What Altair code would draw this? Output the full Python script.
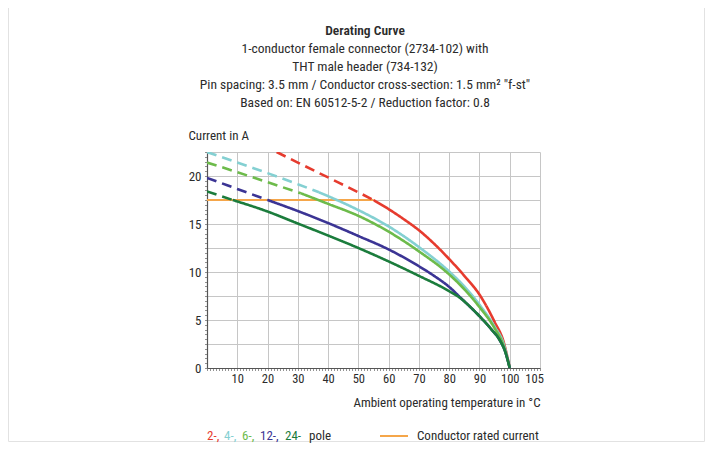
import altair as alt
import pandas as pd

# ---------------- data ----------------
# Ambient temperature in °C  /  current in A
red_dash_t = [23, 30, 40, 50, 55]
red_dash_c = [22.5, 21.4, 19.85, 18.3, 17.5]
red_solid_t = [55, 60, 65, 70, 75, 80, 85, 90, 95, 98, 100]
red_solid_c = [17.5, 16.55, 15.5, 14.35, 12.95, 11.35, 9.6, 7.65, 4.8, 2.7, 0]

cyan_dash_t = [0, 10, 20, 30, 37]
cyan_dash_c = [22.5, 21.4, 20.3, 19.15, 18.3]
cyan_solid_t = [37, 40, 50, 60, 70, 80, 85, 90, 95, 98, 100]
cyan_solid_c = [18.3, 17.9, 16.45, 14.75, 12.6, 10.05, 8.5, 6.6, 4.3, 2.5, 0]

lgreen_dash_t = [0, 10, 20, 31]
lgreen_dash_c = [21.4, 20.4, 19.35, 18.2]
lgreen_solid_t = [31, 40, 50, 60, 70, 80, 85, 90, 95, 98, 100]
lgreen_solid_c = [18.2, 17.1, 15.85, 14.2, 12.15, 9.75, 8.2, 6.35, 4.15, 2.3, 0]

blue_dash_t = [0, 10, 20]
blue_dash_c = [19.8, 18.65, 17.5]
blue_solid_t = [20, 30, 40, 50, 60, 70, 75, 80, 84, 86, 90, 94, 96.5, 98.5, 100]
blue_solid_c = [17.5, 16.35, 15.1, 13.75, 12.35, 10.6, 9.6, 8.45, 7.25, 6.65, 5.4, 4.0, 3.0, 1.7, 0]

dgreen_dash_t = [0, 8.5]
dgreen_dash_c = [18.4, 17.5]
dgreen_solid_t = [8.5, 20, 30, 40, 50, 60, 70, 80, 84, 86, 90, 94, 96.5, 98.5, 100]
dgreen_solid_c = [17.5, 16.3, 15.05, 13.8, 12.5, 11.1, 9.6, 8.0, 7.2, 6.65, 5.4, 4.0, 3.0, 1.7, 0]

rated_t = [0, 55]
rated_c = [17.5, 17.5]

x_grid_values = [0, 10, 20, 30, 40, 50, 60, 70, 80, 90, 100, 110]
x_label_values = [10, 20, 30, 40, 50, 60, 70, 80, 90, 100, 105]
y_grid_values = [0, 2.5, 5, 7.5, 10, 12.5, 15, 17.5, 20, 22.5]
y_label_values = [0, 5, 10, 15, 20]

legend_parts = ["2-,", "4-,", "6-,", "12-,", "24-", "pole"]
legend_rated = "Conductor rated current"

title_text = "Derating Curve"
subtitle_lines = [
    "1-conductor female connector (2734-102) with",
    "THT male header (734-132)",
    'Pin spacing: 3.5 mm / Conductor cross-section: 1.5 mm² "f-st"',
    "Based on: EN 60512-5-2 / Reduction factor: 0.8",
]

# ---------------- styles / layout ----------------
RED = "#e63b2e"
CYAN = "#84d0d2"
LGREEN = "#6dbb4b"
BLUE = "#3b3494"
DGREEN = "#1b7c3c"
ORANGE = "#f5a64a"
TEXT = "#2b2b2b"
GRID = "#c6c6c6"
FONT = "Liberation Sans Narrow, Roboto Condensed, Roboto, sans-serif"

W, H = 333, 216
PAD_L, PAD_T, PAD_R, PAD_B = 199, 144, 166, 75
xscale = alt.Scale(domain=[0, 110], nice=False, zero=False)
yscale = alt.Scale(domain=[0, 22.5], nice=False, zero=False)

series = [
    ("2-pole", RED, red_dash_t, red_dash_c, red_solid_t, red_solid_c),
    ("4-pole", CYAN, cyan_dash_t, cyan_dash_c, cyan_solid_t, cyan_solid_c),
    ("6-pole", LGREEN, lgreen_dash_t, lgreen_dash_c, lgreen_solid_t, lgreen_solid_c),
    ("12-pole", BLUE, blue_dash_t, blue_dash_c, blue_solid_t, blue_solid_c),
    ("24-pole", DGREEN, dgreen_dash_t, dgreen_dash_c, dgreen_solid_t, dgreen_solid_c),
]

all_rows = []
series_frames = []
for name, color, dt, dc, st, sc in series:
    rows = []
    for t, c in zip(dt, dc):
        rows.append({"series": name, "seg": "dashed", "temp": t, "current": c})
    for t, c in zip(st, sc):
        rows.append({"series": name, "seg": "solid", "temp": t, "current": c})
    all_rows += rows
    series_frames.append((name, color, pd.DataFrame(rows)))

df_all = pd.DataFrame(all_rows)
df_rated = pd.DataFrame({"temp": rated_t, "current": rated_c})
one = pd.DataFrame({"k": [0]})

# faint frame (left, right, bottom) around the figure
FR_L, FR_R, FR_B, FR_T = -PAD_L + 0.5, W + PAD_R - 1.5, H + PAD_B - 1.5, -PAD_T - 20
frame = [
    alt.Chart(one).mark_rule(color="#e2e2e2", strokeWidth=1).encode(
        x=alt.value(FR_L), y=alt.value(FR_T), y2=alt.value(FR_B)),
    alt.Chart(one).mark_rule(color="#e2e2e2", strokeWidth=1).encode(
        x=alt.value(FR_R), y=alt.value(FR_T), y2=alt.value(FR_B)),
    alt.Chart(one).mark_rule(color="#e2e2e2", strokeWidth=1).encode(
        x=alt.value(FR_L), x2=alt.value(FR_R), y=alt.value(FR_B)),
]

# grid layer
grid = alt.Chart(df_all).mark_point(opacity=0).encode(
    x=alt.X("temp:Q", scale=xscale, axis=alt.Axis(
        orient="bottom", values=x_grid_values, grid=True, gridColor=GRID, gridWidth=1,
        labels=False, ticks=False, domain=False, title=None)),
    y=alt.Y("current:Q", scale=yscale, axis=alt.Axis(
        orient="left", values=y_grid_values, grid=True, gridColor=GRID, gridWidth=1,
        labels=False, ticks=False, domain=False, title=None)),
)

# minor ticks layer
minor = alt.Chart(df_all).mark_point(opacity=0).encode(
    x=alt.X("temp:Q", scale=xscale, axis=alt.Axis(
        orient="bottom", values=list(range(0, 111)), grid=False, labels=False,
        ticks=True, tickSize=2.5, tickColor="#777", tickWidth=0.8, domain=False, title=None)),
    y=alt.Y("current:Q", scale=yscale, axis=alt.Axis(
        orient="left", values=[i * 0.5 for i in range(46)], grid=False, labels=False,
        ticks=True, tickSize=2.5, tickColor="#777", tickWidth=0.8, domain=False, title=None)),
)

# labelled axes layer
labels = alt.Chart(df_all).mark_point(opacity=0).encode(
    x=alt.X("temp:Q", scale=xscale, axis=alt.Axis(
        orient="bottom", values=x_label_values, grid=False, ticks=False,
        domain=True, domainColor="#555", domainWidth=1.2, labelOverlap=False,
        labelAlign=alt.ExprRef(expr="datum.value == 105 ? 'left' : 'center'"),
        labelFont=FONT, labelFontSize=12.5, labelColor=TEXT, labelPadding=4,
        title="Ambient operating temperature in °C", titleFont=FONT, titleFontSize=13,
        titleFontWeight="normal", titleColor=TEXT, titleX=W, titleY=34,
        titleAlign="right", titleBaseline="middle", titleAngle=0)),
    y=alt.Y("current:Q", scale=yscale, axis=alt.Axis(
        orient="left", values=y_label_values, grid=False, ticks=False,
        domain=True, domainColor="#555", domainWidth=1.2, labelOverlap=False,
        labelFont=FONT, labelFontSize=13, labelColor=TEXT, labelPadding=6,
        title="Current in A", titleFont=FONT, titleFontSize=13,
        titleFontWeight="normal", titleColor=TEXT, titleX=-19, titleY=-17,
        titleAlign="left", titleBaseline="middle", titleAngle=0)),
)

rated = alt.Chart(df_rated).mark_line(color=ORANGE, strokeWidth=2).encode(
    x=alt.X("temp:Q", scale=xscale, axis=None),
    y=alt.Y("current:Q", scale=yscale, axis=None),
)

dash_scale = alt.Scale(domain=["dashed", "solid"], range=[[10, 6], [1, 0]])
curve_layers = []
for name, color, df in series_frames:
    curve_layers.append(
        alt.Chart(df).mark_line(color=color, strokeWidth=2.6, interpolate="monotone", clip=True).encode(
            x=alt.X("temp:Q", scale=xscale, axis=None),
            y=alt.Y("current:Q", scale=yscale, axis=None),
            strokeDash=alt.StrokeDash("seg:N", scale=dash_scale, legend=None),
            detail="seg:N",
        )
    )

# custom legend below the plot (pixel layout relative to plot origin)
legend_colors = [RED, CYAN, LGREEN, BLUE, DGREEN, TEXT]
legend_x = [0, 17, 35, 53, 78, 102]
LEG_Y = 284
legend_layers = []
for txt, col, px in zip(legend_parts, legend_colors, legend_x):
    legend_layers.append(
        alt.Chart(one).mark_text(text=txt, color=col, font=FONT, fontSize=13,
                                 align="left", baseline="middle").encode(
            x=alt.value(px), y=alt.value(LEG_Y))
    )
legend_layers.append(
    alt.Chart(one).mark_rule(color=ORANGE, strokeWidth=2).encode(
        x=alt.value(173), x2=alt.value(201), y=alt.value(LEG_Y))
)
legend_layers.append(
    alt.Chart(one).mark_text(text=legend_rated, color=TEXT, font=FONT, fontSize=13,
                             align="left", baseline="middle").encode(
        x=alt.value(210), y=alt.value(LEG_Y))
)

# title block drawn as text (centred above the plot)
TITLE_X = 158
TITLE_Y0 = -121.5
LINE_H = 18.1
title_layers = [
    alt.Chart(one).mark_text(text=title_text, color=TEXT, font=FONT, fontSize=13.5,
                             fontWeight=600, align="center", baseline="middle").encode(
        x=alt.value(TITLE_X), y=alt.value(TITLE_Y0))
]
for i, line in enumerate(subtitle_lines):
    title_layers.append(
        alt.Chart(one).mark_text(text=line, color=TEXT, font=FONT, fontSize=13.5,
                                 align="center", baseline="middle").encode(
            x=alt.value(TITLE_X), y=alt.value(TITLE_Y0 + (i + 1) * LINE_H))
    )

chart = alt.layer(*frame, grid, minor, labels, rated, *curve_layers, *legend_layers,
                  *title_layers).resolve_axis(
    x="independent", y="independent"
).properties(
    width=W, height=H,
    autosize=alt.AutoSizeParams(type="none"),
    padding={"left": PAD_L, "top": PAD_T, "right": PAD_R, "bottom": PAD_B},
    background="white",
).configure_view(stroke=None)

chart.save("out.html", embed_options={"renderer": "svg", "actions": False})
